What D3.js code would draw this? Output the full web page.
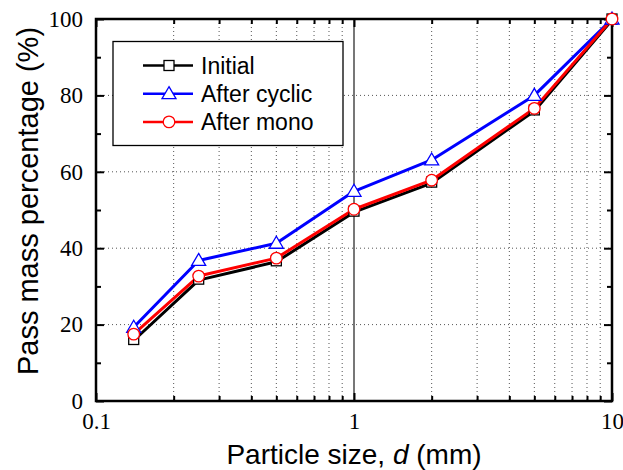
<!DOCTYPE html>
<html>
<head>
<meta charset="utf-8">
<script src="https://cdn.jsdelivr.net/npm/d3@7"></script>
<style>
  html, body { margin: 0; padding: 0; background: #fff; }
  svg { display: block; }
</style>
</head>
<body>
<svg id="chart" width="623" height="470"></svg>
<script>
// Particle size distribution (mm) and passing percentages
const sizes = [0.14, 0.25, 0.5, 1, 2, 5, 10];
const initial = [16.1, 31.9, 36.7, 49.7, 57.3, 76.2, 100];
const afterCyclic = [19.3, 36.8, 41.3, 54.9, 63.1, 80.0, 100];
const afterMono = [17.5, 32.7, 37.4, 50.2, 57.8, 76.6, 100];
const xTickLabels = ["0.1", "1", "10"];
const yTickLabels = ["0", "20", "40", "60", "80", "100"];
const seriesNames = ["Initial", "After cyclic", "After mono"];

const series = [
  { name: seriesNames[0], values: initial, color: "#000000", marker: "square", dy: 1 },
  { name: seriesNames[1], values: afterCyclic, color: "#0000ff", marker: "triangle", dy: 0 },
  { name: seriesNames[2], values: afterMono, color: "#ff0000", marker: "circle", dy: 0 }
];

const svg = d3.select("#chart");
const L = 96, R = 612, T = 19, B = 401;

const x = d3.scaleLog().domain([0.1, 10]).range([L, R]);
const y = d3.scaleLinear().domain([0, 100]).range([B, T]);

// minor tick values for the log axis
const minorX = [];
[0.1, 1].forEach(dec => { for (let k = 2; k <= 9; k++) minorX.push(dec * k); });
const majorY = yTickLabels.map(Number);
const minorY = [10, 30, 50, 70, 90];

const grid = svg.append("g");
// vertical dotted grid at minor positions
grid.selectAll("line.vx").data(minorX).enter().append("line")
  .attr("x1", d => x(d)).attr("x2", d => x(d))
  .attr("y1", T).attr("y2", B)
  .attr("stroke", "#555").attr("stroke-width", 1)
  .attr("stroke-dasharray", "1,3");
// horizontal dotted grid at major y
grid.selectAll("line.hy").data([20, 40, 60, 80]).enter().append("line")
  .attr("x1", L).attr("x2", R)
  .attr("y1", d => y(d)).attr("y2", d => y(d))
  .attr("stroke", "#555").attr("stroke-width", 1)
  .attr("stroke-dasharray", "1,3");
// solid major vertical line at 1 mm
grid.append("line")
  .attr("x1", x(1)).attr("x2", x(1)).attr("y1", T).attr("y2", B)
  .attr("stroke", "#777").attr("stroke-width", 2);

// Axes with inward ticks
const axisG = svg.append("g");
function drawAxis(axis, tx, ty) {
  const g = axisG.append("g").attr("transform", `translate(${tx},${ty})`).call(axis);
  g.select(".domain").remove();
  g.selectAll("line").attr("stroke", "#000").attr("stroke-width", 2);
  return g;
}
const bottomMajor = drawAxis(d3.axisBottom(x).tickValues(xTickLabels.map(Number)).tickSize(-8).tickFormat(d => d3.format("~g")(d)).tickPadding(12), 0, B);
drawAxis(d3.axisBottom(x).tickValues(minorX).tickSize(-5).tickFormat(""), 0, B);
drawAxis(d3.axisTop(x).tickValues(xTickLabels.map(Number)).tickSize(-8).tickFormat(""), 0, T);
drawAxis(d3.axisTop(x).tickValues(minorX).tickSize(-5).tickFormat(""), 0, T);
const leftMajor = drawAxis(d3.axisLeft(y).tickValues(majorY).tickSize(-8).tickFormat((d, i) => yTickLabels[i]).tickPadding(13), L, 0);
drawAxis(d3.axisLeft(y).tickValues(minorY).tickSize(-5).tickFormat(""), L, 0);
drawAxis(d3.axisRight(y).tickValues(majorY).tickSize(-8).tickFormat(""), R, 0);
drawAxis(d3.axisRight(y).tickValues(minorY).tickSize(-5).tickFormat(""), R, 0);

[bottomMajor, leftMajor].forEach(g => g.selectAll("text")
  .attr("font-family", "'Liberation Serif', 'Times New Roman', serif")
  .attr("font-size", 23).attr("fill", "#000"));

// frame
svg.append("rect").attr("x", L).attr("y", T).attr("width", R - L).attr("height", B - T)
  .attr("fill", "none").attr("stroke", "#000").attr("stroke-width", 2.5);

// markers
function drawMarker(g, type, cx, cy, color) {
  if (type === "square") {
    g.append("rect").attr("x", cx - 5).attr("y", cy - 5).attr("width", 10).attr("height", 10)
      .attr("fill", "#fff").attr("stroke", color).attr("stroke-width", 1.3);
  } else if (type === "triangle") {
    g.append("path").attr("d", `M${cx},${cy - 7}L${cx + 7},${cy + 5}L${cx - 7},${cy + 5}Z`)
      .attr("fill", "#fff").attr("stroke", color).attr("stroke-width", 1.3);
  } else {
    g.append("circle").attr("cx", cx).attr("cy", cy).attr("r", 5.8)
      .attr("fill", "#fff").attr("stroke", color).attr("stroke-width", 1.3);
  }
}

const plot = svg.append("g");
const line = d3.line().x(d => x(d[0])).y(d => y(d[1]));
series.forEach(s => {
  const pts = sizes.map((v, i) => [v, s.values[i]]);
  plot.append("path").datum(pts).attr("d", line)
    .attr("transform", `translate(0,${s.dy})`)
    .attr("fill", "none").attr("stroke", s.color).attr("stroke-width", 3)
    .attr("stroke-linejoin", "round");
});
series.forEach(s => {
  const g = plot.append("g");
  sizes.forEach((v, i) => drawMarker(g, s.marker, x(v), y(s.values[i]), s.color));
});

// legend
const lg = svg.append("g");
lg.append("rect").attr("x", 113).attr("y", 41.5).attr("width", 230).attr("height", 104)
  .attr("fill", "#fff").attr("stroke", "#000").attr("stroke-width", 1.3);
series.forEach((s, i) => {
  const yy = 65.5 + i * 28.2;
  lg.append("line").attr("x1", 143).attr("x2", 193).attr("y1", yy).attr("y2", yy)
    .attr("stroke", s.color).attr("stroke-width", 2.5);
  drawMarker(lg, s.marker, 169, yy, s.color);
  lg.append("text").attr("x", 201).attr("y", yy).attr("dy", "0.35em")
    .attr("font-family", "'Liberation Sans', Arial, sans-serif").attr("font-size", 23)
    .text(s.name);
});

// axis titles
const xt = svg.append("text").attr("x", (L + R) / 2).attr("y", 464)
  .attr("text-anchor", "middle")
  .attr("font-family", "'Liberation Sans', Arial, sans-serif").attr("font-size", 28);
xt.append("tspan").text("Particle size, ");
xt.append("tspan").attr("font-style", "italic").text("d");
xt.append("tspan").text(" (mm)");

svg.append("text")
  .attr("transform", `translate(38,201) rotate(-90)`)
  .attr("text-anchor", "middle")
  .attr("font-family", "'Liberation Sans', Arial, sans-serif").attr("font-size", 29)
  .text("Pass mass percentage (%)");
</script>
</body>
</html>
